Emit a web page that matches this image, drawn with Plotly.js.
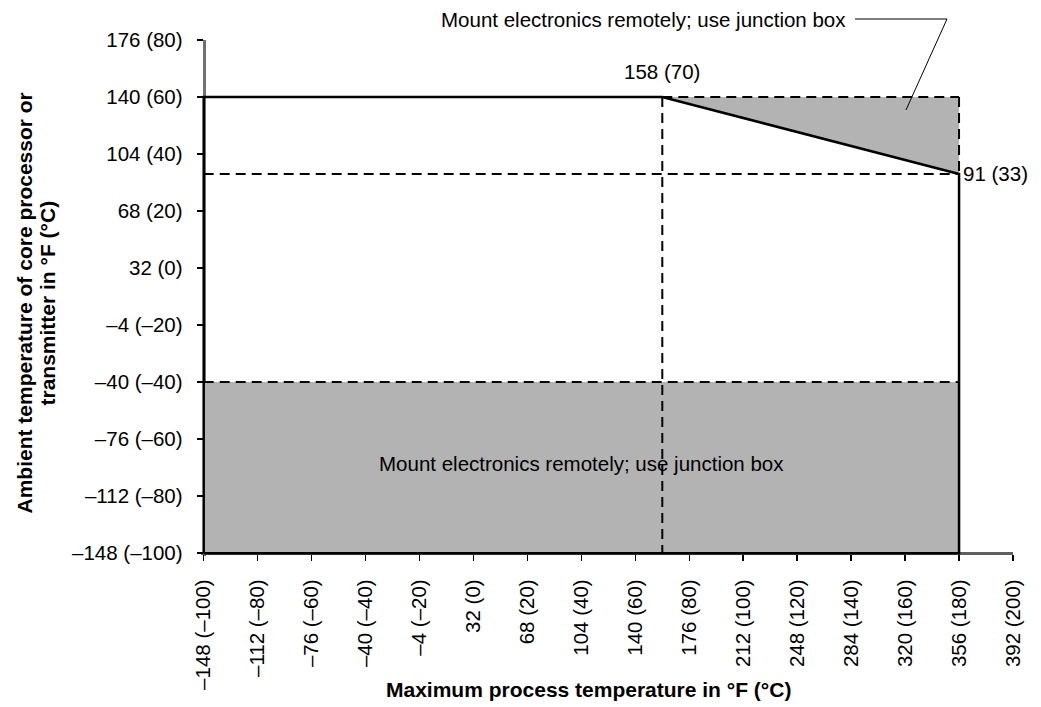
<!DOCTYPE html>
<html>
<head>
<meta charset="utf-8">
<script src="https://cdn.plot.ly/plotly-3.0.1.min.js"></script>
<style>html,body{margin:0;padding:0;background:#fff;}#chart{width:1041px;height:707px;}</style>
</head>
<body>
<div id="chart"></div>
<script>
// Axis ticks (values in °C, labels in °F (°C))
const xTickVals = [-100, -80, -60, -40, -20, 0, 20, 40, 60, 80, 100, 120, 140, 160, 180, 200];
const xTickText = ['–148 (–100)', '–112 (–80)', '–76 (–60)', '–40 (–40)', '–4 (–20)', '32 (0)', '68 (20)', '104 (40)',
                   '140 (60)', '176 (80)', '212 (100)', '248 (120)', '284 (140)', '320 (160)', '356 (180)', '392 (200)'];
const yTickVals = [-100, -80, -60, -40, -20, 0, 20, 40, 60, 80];
const yTickText = ['–148 (–100)', '–112 (–80)', '–76 (–60)', '–40 (–40)', '–4 (–20)', '32 (0)', '68 (20)', '104 (40)', '140 (60)', '176 (80)'];

// Operating envelope (°C)
const limitX = [-100, -100, 70, 180, 180, -100];
const limitY = [-100, 60, 60, 33, -100, -100];

// Shaded zones: mount electronics remotely
const lowZoneX = [-100, 180, 180, -100];
const lowZoneY = [-100, -100, -40, -40];
const highZoneX = [70, 180, 180];
const highZoneY = [60, 60, 33];

// Dashed guide lines
const guideX = [-100, 180, null, -100, 180, null, 70, 70, null, 70, 180, null, 180, 180];
const guideY = [33, 33, null, -40, -40, null, 60, -100, null, 60, 60, null, 60, 33];

// Labelled points
const kneePoint = {x: 70, y: 60, label: '158 (70)'};
const endPoint = {x: 180, y: 33, label: '91 (33)'};
const zoneLabel = 'Mount electronics remotely; use junction box';

const FONT = 'Liberation Sans, Arial, Helvetica, sans-serif';
const FILL = '#b3b3b3';

const traces = [
  {x: lowZoneX, y: lowZoneY, mode: 'lines', fill: 'toself', fillcolor: FILL, line: {width: 0}, hoverinfo: 'skip'},
  {x: highZoneX, y: highZoneY, mode: 'lines', fill: 'toself', fillcolor: FILL, line: {width: 0}, hoverinfo: 'skip'},
  {x: guideX, y: guideY, mode: 'lines', connectgaps: false, line: {color: '#000', width: 2, dash: '10px,6px'}, hoverinfo: 'skip'},
  {x: limitX, y: limitY, mode: 'lines', line: {color: '#000', width: 2.5}, hoverinfo: 'skip'}
];

// plot area geometry
const L = 201, R = 28, T = 40, B = 151, W = 1041, H = 707;
const pw = W - L - R, ph = H - T - B;
const px = v => (v - L) / pw;
const py = v => (H - B - v) / ph;

const layout = {
  width: W, height: H,
  margin: {l: L, r: R, t: T, b: B, pad: 0},
  paper_bgcolor: '#fff', plot_bgcolor: '#fff',
  showlegend: false,
  font: {family: FONT, size: 20.5, color: '#000'},
  xaxis: {
    range: [-101, 200], anchor: 'free', position: 1 / 181,
    tickvals: xTickVals, ticktext: xTickText, tickangle: -90,
    ticks: 'outside', ticklen: 6, tickwidth: 1.5, tickcolor: '#000',
    ticklabelstandoff: 10,
    showline: true, linecolor: '#606060', linewidth: 3,
    showgrid: false, zeroline: false, layer: 'below traces',
    tickfont: {family: FONT, size: 20.5, color: '#000'}, fixedrange: true
  },
  yaxis: {
    range: [-101, 80], anchor: 'free', position: 1 / 301,
    tickvals: yTickVals, ticktext: yTickText,
    ticks: 'outside', ticklen: 6, tickwidth: 1.5, tickcolor: '#000',
    ticklabelstandoff: 10,
    showline: true, linecolor: '#707070', linewidth: 3,
    showgrid: false, zeroline: false, layer: 'below traces',
    tickfont: {family: FONT, size: 20.5, color: '#000'}, fixedrange: true
  },
  annotations: [
    {text: '<b>Ambient temperature of core processor or</b>', xref: 'paper', yref: 'paper', x: px(24), y: py(303.5),
     textangle: -90, showarrow: false, xanchor: 'center', yanchor: 'middle', font: {family: FONT, size: 21, color: '#000'}},
    {text: '<b>transmitter in °F (°C)</b>', xref: 'paper', yref: 'paper', x: px(47), y: py(303.5),
     textangle: -90, showarrow: false, xanchor: 'center', yanchor: 'middle', font: {family: FONT, size: 21, color: '#000'}},
    {text: '<b>Maximum process temperature in °F (°C)</b>', xref: 'paper', yref: 'paper', x: px(588), y: py(689),
     showarrow: false, xanchor: 'center', yanchor: 'middle', font: {family: FONT, size: 21, color: '#000'}},
    {text: zoneLabel, xref: 'paper', yref: 'paper', x: px(848), y: py(20),
     showarrow: false, xanchor: 'right', yanchor: 'middle', font: {family: FONT, size: 20.5, color: '#000'}},
    {text: zoneLabel, xref: 'x', yref: 'y', x: 40, y: -70, yshift: 4,
     showarrow: false, xanchor: 'center', yanchor: 'middle', font: {family: FONT, size: 20.5, color: '#000'}},
    {text: kneePoint.label, xref: 'x', yref: 'y', x: kneePoint.x, y: kneePoint.y, yshift: 25.5,
     showarrow: false, xanchor: 'center', yanchor: 'middle', font: {family: FONT, size: 20.5, color: '#000'}},
    {text: endPoint.label, xref: 'x', yref: 'y', x: endPoint.x, y: endPoint.y, xshift: 2,
     showarrow: false, xanchor: 'left', yanchor: 'middle', font: {family: FONT, size: 20.5, color: '#000'}}
  ],
  shapes: [
    {type: 'path', xref: 'paper', yref: 'paper',
     path: 'M ' + px(855) + ' ' + py(19) + ' L ' + px(947) + ' ' + py(19) + ' L ' + px(906) + ' ' + py(110),
     line: {color: '#000', width: 1}}
  ]
};

Plotly.newPlot('chart', traces, layout, {displayModeBar: false, staticPlot: true});
</script>
</body>
</html>
